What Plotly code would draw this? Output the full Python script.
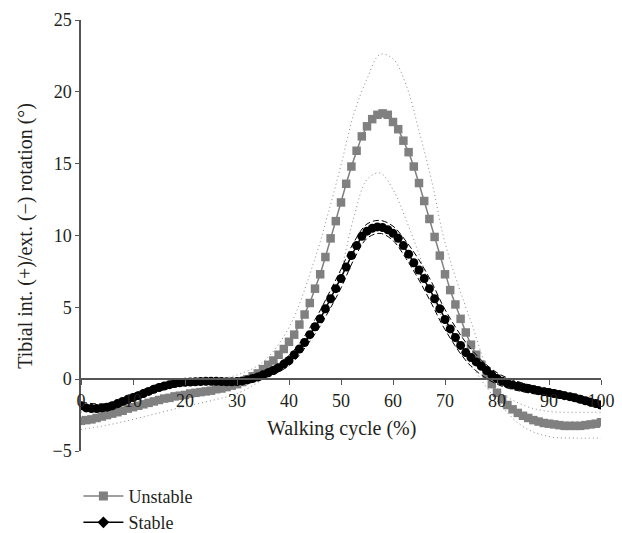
import plotly.graph_objects as go

# ---------------- data ----------------
cycle = list(range(0, 101))

unstable = [-2.9, -2.85, -2.8, -2.7, -2.6, -2.5, -2.4, -2.3, -2.2, -2.05,
            -1.95, -1.85, -1.75, -1.65, -1.55, -1.45, -1.35, -1.3, -1.2, -1.15,
            -1.1, -1.0, -0.95, -0.9, -0.85, -0.8, -0.7, -0.65, -0.55, -0.45,
            -0.35, -0.2, 0.0, 0.2, 0.4, 0.7, 1.0, 1.3, 1.7, 2.1,
            2.6, 3.1, 3.8, 4.5, 5.3, 6.3, 7.3, 8.5, 9.8, 11.0,
            12.3, 13.6, 14.8, 15.9, 16.9, 17.6, 18.1, 18.4, 18.5, 18.4,
            17.9, 17.4, 16.6, 15.8, 14.8, 13.65, 12.4, 11.15, 9.9, 8.6,
            7.3, 6.2, 5.2, 4.2, 3.25, 2.4, 1.7, 1.0, 0.3, -0.35,
            -0.95, -1.4, -1.8, -2.1, -2.35, -2.55, -2.7, -2.85, -2.95, -3.05,
            -3.1, -3.15, -3.2, -3.25, -3.25, -3.25, -3.25, -3.2, -3.15, -3.1,
            -3.0]

stable = [-1.85, -2.0, -2.05, -2.05, -2.0, -1.95, -1.85, -1.7, -1.55, -1.4,
          -1.28, -1.15, -1.0, -0.85, -0.7, -0.58, -0.48, -0.38, -0.3, -0.25,
          -0.22, -0.2, -0.18, -0.17, -0.15, -0.15, -0.15, -0.17, -0.18, -0.18,
          -0.17, -0.12, -0.05, 0.05, 0.15, 0.3, 0.45, 0.6, 0.8, 1.05,
          1.3, 1.7, 2.1, 2.55, 3.1, 3.65, 4.2, 4.9, 5.6, 6.3,
          7.0, 7.8, 8.6, 9.3, 9.95, 10.3, 10.5, 10.6, 10.55, 10.4,
          10.15, 9.8, 9.3, 8.7, 8.1, 7.6, 7.0, 6.3, 5.6, 4.9,
          4.15, 3.5, 2.9, 2.35, 1.85, 1.5, 1.2, 0.9, 0.6, 0.3,
          0.05, -0.15, -0.3, -0.4, -0.5, -0.58, -0.65, -0.72, -0.8, -0.87,
          -0.93, -1.0, -1.07, -1.15, -1.22, -1.3, -1.4, -1.5, -1.6, -1.7,
          -1.8]

band_x = [0, 5, 10, 15, 20, 25, 30, 35, 40, 45, 47.5, 50, 52.5, 55, 57.5,
          60, 62.5, 65, 67.5, 70, 75, 80, 85, 90, 95, 100]

unstable_upper = [-2.3, -1.8, -1.2, -0.75, -0.4, -0.1, 0.3, 1.2, 3.6, 8.4, 11.5,
                  14.9, 18.5, 20.9, 22.6, 22.3, 20.5, 17.3, 13.7, 9.5, 4.0,
                  -0.6, -1.8, -2.25, -2.3, -2.3]
unstable_lower = [-3.5, -3.2, -2.8, -2.35, -1.9, -1.5, -1.0, 0.0, 1.4, 3.6, 5.1,
                  7.6, 11.3, 13.9, 14.35, 13.2, 11.1, 8.7, 5.9, 3.9, 1.0,
                  -1.5, -3.3, -4.0, -4.1, -4.1]
stable_upper = [-1.6, -1.7, -1.03, -0.33, -0.02, 0.05, 0.03, 0.55, 1.65, 4.15, 5.85,
                7.65, 9.55, 10.8, 11.05, 10.65, 9.6, 8.3, 6.7, 4.85, 2.1,
                0.45, -0.28, -0.68, -1.05, -1.55]
stable_lower = [-2.1, -2.2, -1.53, -0.83, -0.42, -0.35, -0.37, 0.05, 0.95, 3.15, 4.65,
                6.35, 8.35, 9.8, 10.15, 9.65, 8.4, 6.9, 5.2, 3.45, 0.9,
                -0.35, -0.88, -1.18, -1.55, -2.05]

x_ticks = [0, 10, 20, 30, 40, 50, 60, 70, 80, 90, 100]
y_ticks = [-5, 0, 5, 10, 15, 20, 25]

GRAY = "#808080"
BLACK = "#000000"
AXIS = "#555555"
TEXT = "#231f20"
FONT = "Liberation Serif"

fig = go.Figure()

# unstable SD bands (dotted)
for band in (unstable_upper, unstable_lower):
    fig.add_trace(go.Scatter(x=band_x, y=band, mode="lines", showlegend=False,
                             line=dict(color="#8a8a8a", width=1, dash="1px,3px", shape="spline"),
                             hoverinfo="skip"))

fig.add_trace(go.Scatter(x=cycle, y=unstable, mode="lines+markers", showlegend=False,
                         line=dict(color=GRAY, width=1.5),
                         marker=dict(symbol="square", size=8.5, color=GRAY)))

fig.add_trace(go.Scatter(x=cycle, y=stable, mode="lines+markers", showlegend=False,
                         line=dict(color=BLACK, width=1.5),
                         marker=dict(symbol="circle", size=9, color=BLACK)))

for band in (stable_upper, stable_lower):
    fig.add_trace(go.Scatter(x=band_x, y=band, mode="lines", showlegend=False,
                             line=dict(color=BLACK, width=1, dash="6px,3px", shape="spline"),
                             hoverinfo="skip"))

# legend entries
fig.add_trace(go.Scatter(x=[None], y=[None], mode="lines+markers", name="Unstable",
                         line=dict(color=GRAY, width=1.5),
                         marker=dict(symbol="square", size=9, color=GRAY)))
fig.add_trace(go.Scatter(x=[None], y=[None], mode="lines+markers", name="Stable",
                         line=dict(color=BLACK, width=1.5),
                         marker=dict(symbol="diamond", size=9, color=BLACK)))

y_min, y_max = -5, 25

fig.update_layout(
    width=622, height=533,
    margin=dict(l=81, r=21, t=20, b=82, autoexpand=False),
    paper_bgcolor="white", plot_bgcolor="white",
    font=dict(family=FONT, size=18, color=TEXT),
    showlegend=True,
    legend=dict(x=-0.005, y=-0.062, xanchor="left", yanchor="top",
                font=dict(family=FONT, size=18, color=TEXT),
                bgcolor="rgba(0,0,0,0)", tracegroupgap=0, itemwidth=40),
    hovermode=False,
    xaxis=dict(range=[0, 100], tickvals=x_ticks, showgrid=False, zeroline=False,
               showline=True, linecolor=AXIS, linewidth=1.5,
               ticks="outside", ticklen=5, tickcolor=AXIS, tickwidth=1.2,
               anchor="free", position=(0 - y_min) / (y_max - y_min),
               tickfont=dict(family=FONT, size=18, color=TEXT)),
    yaxis=dict(range=[y_min, y_max], tickvals=y_ticks, showgrid=False, zeroline=False,
               showline=True, linecolor=AXIS, linewidth=1.5,
               ticks="outside", ticklen=4, tickcolor=AXIS, tickwidth=1.2,
               tickfont=dict(family=FONT, size=18, color=TEXT)),
    annotations=[
        dict(text="Walking cycle (%)", xref="paper", yref="y", x=0.5, y=-3.4,
             xanchor="center", yanchor="middle", showarrow=False,
             font=dict(family=FONT, size=20, color=TEXT)),
        dict(text="Tibial int. (+)/ext. (\u2212) rotation (\u00b0)", xref="paper", yref="paper",
             x=-0.107, y=0.5, xanchor="center", yanchor="middle", textangle=-90,
             showarrow=False, font=dict(family=FONT, size=20, color=TEXT)),
    ],
)

fig.write_html("out.html")
